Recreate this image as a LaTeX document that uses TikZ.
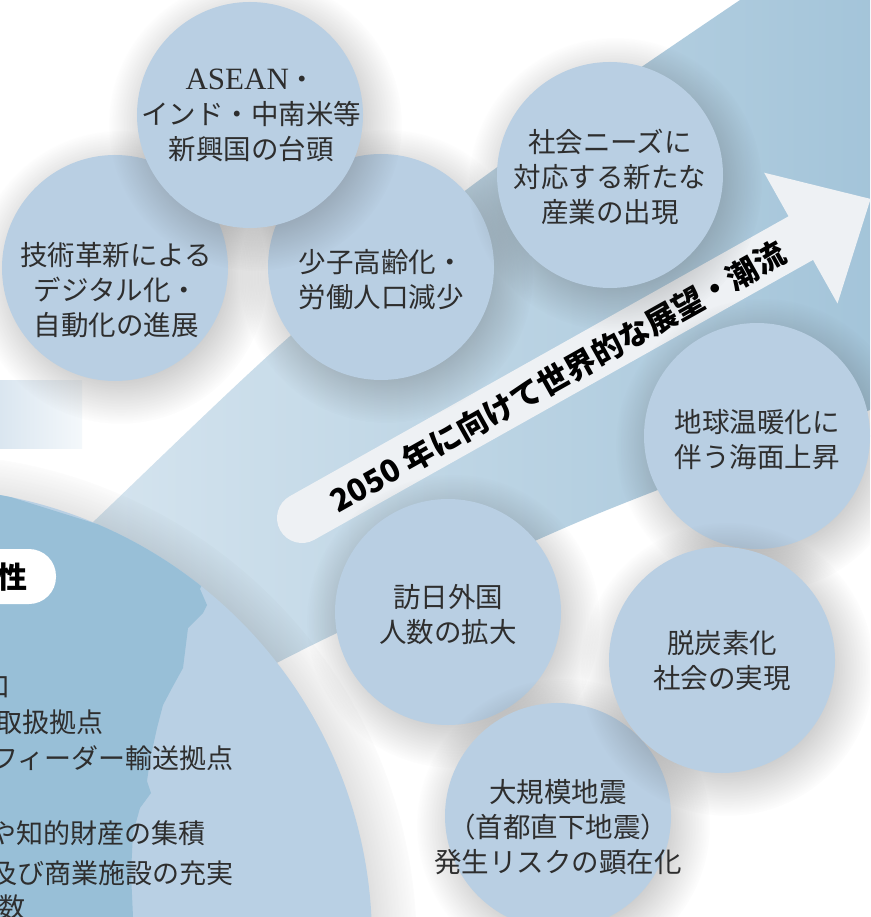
\documentclass[tikz,border=0pt]{standalone}
\usepackage{fontspec}
\setmainfont{Noto Sans CJK JP}
\newfontfamily\latserif{Liberation Serif}
\usetikzlibrary{shadows,fadings}
\definecolor{circ}{HTML}{B9CFE3}
\definecolor{textc}{HTML}{2E2E2E}
\definecolor{bandL}{HTML}{D8E6F0}
\definecolor{bandR}{HTML}{A3C4D9}
\definecolor{stripL}{HTML}{DAE6F0}
\definecolor{stripR}{HTML}{F4F8FB}
\definecolor{mapdark}{HTML}{98BFD7}
\definecolor{maplight}{HTML}{B9D0E4}
\definecolor{arrowc}{HTML}{EEF1F4}
\pgfdeclareradialshading{softshdA}{\pgfpointorigin}{color(0bp)=(pgftransparent!0); color(11bp)=(pgftransparent!0); color(25bp)=(pgftransparent!100); color(50bp)=(pgftransparent!100)}
\pgfdeclarefading{softfadeA}{\pgfuseshading{softshdA}}
\pgfdeclareradialshading{softshdB}{\pgfpointorigin}{color(0bp)=(pgftransparent!0); color(20bp)=(pgftransparent!0); color(25bp)=(pgftransparent!100); color(50bp)=(pgftransparent!100)}
\pgfdeclarefading{softfadeB}{\pgfuseshading{softshdB}}
\tikzset{
  cshadow/.style={general shadow={shadow scale=1.3, shadow xshift=4pt, shadow yshift=-7pt, fill=black!75, opacity=0.45, path fading=softfadeA}},
  bshadow/.style={general shadow={shadow scale=1.09, shadow xshift=6pt, shadow yshift=-4pt, fill=black!70, opacity=0.35, path fading=softfadeB}},
  bubble/.style={circle, fill=circ, minimum size=226pt, inner sep=0pt, cshadow},
  bubtxt/.style={text=textc, align=center, inner sep=0pt, font=\fontsize{27.5}{35}\selectfont},
  maptxt/.style={text=textc, inner sep=0pt, anchor=east, font=\fontsize{27}{32}\selectfont},
  arrtxt/.style={text=black, inner sep=0pt, font=\fontsize{31}{36}\selectfont\bfseries}
}
\begin{document}
\begin{tikzpicture}[x=1pt,y=-1pt]
\useasboundingbox (0,0) rectangle (870,917);
\clip (0,0) rectangle (870,917);
\fill[white] (0,0) rectangle (870,917);
% left strip
\shade[left color=stripL, right color=stripR] (0,380) rectangle (82,448);
% band
\shade[left color=bandL, right color=bandR]
  plot[smooth] coordinates {(40,570) (92,523) (280,345) (470,187) (740,0)}
  -- (880,-5) -- (880,406)
  -- plot[smooth] coordinates {(870,410) (650,493) (537,540) (337,633) (250,676) (150,720)}
  -- cycle;
% big circle
\node[circle, fill=maplight, minimum size=904pt, inner sep=0pt, bshadow] (big) at (-80,940) {};
\begin{scope}
  \clip (-80,940) circle[radius=452];
  \fill[mapdark] (-300,400) -- (212,560) -- (200,589) -- (207,605) -- (203,613) -- (188,628)
    -- (183,668) -- (172,688) -- (163,705) -- (157,728) -- (150,760) -- (147,781) -- (151,793)
    -- (140,808) -- (133,833) -- (131,873) -- (133,917) -- (133,960) -- (-300,960) -- cycle;
\end{scope}
\fill[white, rounded corners=27pt] (-80,549) rectangle (56,604);
\node[text=black, inner sep=0pt, font=\fontsize{30}{34}\selectfont\bfseries] (lbl) at (13,577) {性};
\node[maptxt] (m1) at (11,687) {口};
\node[maptxt] (m2) at (104,722) {取扱拠点};
\node[maptxt] (m3) at (234,758) {フィーダー輸送拠点};
\node[maptxt] (m4) at (206,833) {や知的財産の集積};
\node[maptxt] (m5) at (234,873) {及び商業施設の充実};
\node[maptxt] (m6) at (26,907) {数};
% arrow
\begin{scope}[shift={(302,518)}, rotate=29.3]
  \fill[arrowc] (0,25) arc[start angle=90, end angle=270, radius=25] -- (572,-25) -- (572,-75)
    -- (652,0) -- (572,75) -- (572,25) -- cycle;
  \node[arrtxt, rotate=29.3] (arrtext) at (292,2) {2050 年に向けて世界的な展望・潮流};
\end{scope}
% bubbles
\node[bubble] (c1) at (115,268) {};
\node[bubble] (c2) at (381,267) {};
\node[bubble] (c3) at (250,115) {};
\node[bubble] (c4) at (610,175) {};
\node[bubble] (c6) at (448,612) {};
\node[bubble] (c8) at (558,816) {};
\node[bubble] (c5) at (757,436) {};
\node[bubble] (c7) at (722,660) {};
% bubble texts
\node[bubtxt] (t1) at (116,290) {技術革新による\\デジタル化・\\自動化の進展};
\node[bubtxt] (t2) at (381,280) {少子高齢化・\\労働人口減少};
\node[bubtxt] (t3) at (251,115) {{\fontsize{31}{35}\selectfont\latserif ASEAN}・\\インド・中南米等\\新興国の台頭};
\node[bubtxt] (t4) at (610,177) {社会ニーズに\\対応する新たな\\産業の出現};
\node[bubtxt] (t5) at (757,440) {地球温暖化に\\伴う海面上昇};
\node[bubtxt] (t6) at (448,615) {訪日外国\\人数の拡大};
\node[bubtxt] (t7) at (722,661) {脱炭素化\\社会の実現};
\node[bubtxt] (t8) at (558,827) {大規模地震\\（首都直下地震）\\発生リスクの顕在化};
\end{tikzpicture}
\end{document}
